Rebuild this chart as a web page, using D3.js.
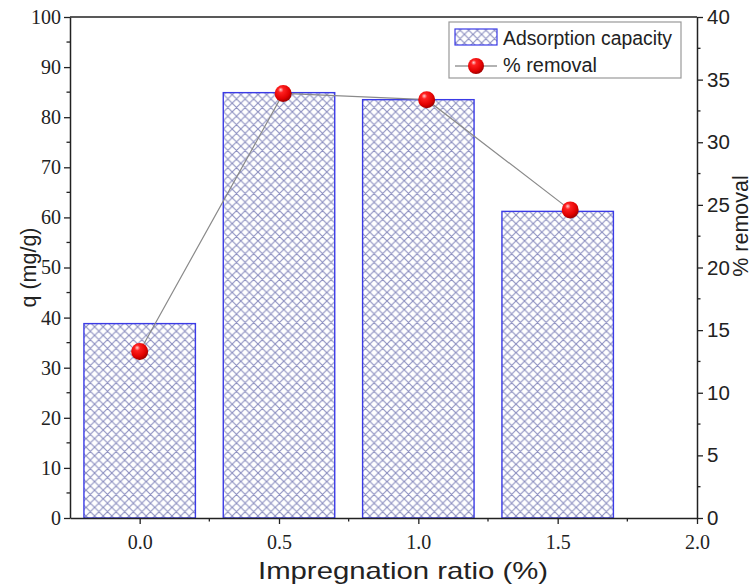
<!DOCTYPE html>
<html>
<head>
<meta charset="utf-8">
<script src="https://cdn.jsdelivr.net/npm/d3@7"></script>
<style>
  html, body { margin: 0; padding: 0; background: #fff; }
  svg { display: block; }
</style>
</head>
<body>
<svg id="chart" width="753" height="584"></svg>
<script>
// Impregnation ratio (%) for each bar
const ratios = [0.0, 0.5, 1.0, 1.5];
// Adsorption capacity q (mg/g)
const capacity = [38.8, 84.9, 83.5, 61.2];
// Removal points: their x positions and % removal
const removalX = [0.0, 0.515, 1.03, 1.545];
const removal = [13.3, 33.9, 33.4, 24.6];
// Tick values
const xTicks = [0.0, 0.5, 1.0, 1.5, 2.0];
const qTicks = [0, 10, 20, 30, 40, 50, 60, 70, 80, 90, 100];
const rTicks = [0, 5, 10, 15, 20, 25, 30, 35, 40];

const plotLeft = 70, plotRight = 697, plotTop = 17, plotBottom = 518;
const barWidth = 0.4;

const svg = d3.select("#chart");
const defs = svg.append("defs");

// crosshatch fill for the bars
const pat = defs.append("pattern")
  .attr("id", "hatch")
  .attr("patternUnits", "userSpaceOnUse")
  .attr("width", 8.6).attr("height", 8.6);
pat.append("rect").attr("width", 8.6).attr("height", 8.6).attr("fill", "#fff");
pat.append("path")
  .attr("d", "M0,0 L8.6,8.6 M8.6,0 L0,8.6 M-1,7.6 L1,9.6 M7.6,-1 L9.6,1 M-1,1 L1,-1 M7.6,9.6 L9.6,7.6")
  .attr("stroke", "#8c8fc0").attr("stroke-width", 1.1).attr("fill", "none");

// shiny red ball marker
const grad = defs.append("radialGradient")
  .attr("id", "ball").attr("cx", "40%").attr("cy", "35%").attr("r", "65%").attr("fx", "35%").attr("fy", "28%");
grad.append("stop").attr("offset", "0%").attr("stop-color", "#ffd0d0");
grad.append("stop").attr("offset", "25%").attr("stop-color", "#ff2020");
grad.append("stop").attr("offset", "75%").attr("stop-color", "#e00000");
grad.append("stop").attr("offset", "100%").attr("stop-color", "#a00000");

const x = d3.scaleLinear().domain([-0.25, 2.0]).range([plotLeft, plotRight]);
const yQ = d3.scaleLinear().domain([0, 100]).range([plotBottom, plotTop]);
const yR = d3.scaleLinear().domain([0, 40]).range([plotBottom, plotTop]);

// bars
svg.append("g").selectAll("rect")
  .data(ratios)
  .join("rect")
  .attr("x", (d) => x(d - barWidth / 2))
  .attr("width", (d) => x(d + barWidth / 2) - x(d - barWidth / 2))
  .attr("y", (d, i) => yQ(capacity[i]))
  .attr("height", (d, i) => yQ(0) - yQ(capacity[i]))
  .attr("fill", "url(#hatch)")
  .attr("stroke", "#3b3be6")
  .attr("stroke-width", 1.4);

// removal line and points
const pts = removalX.map((v, i) => [v, removal[i]]);
svg.append("path")
  .datum(pts)
  .attr("d", d3.line().x((d) => x(d[0])).y((d) => yR(d[1])))
  .attr("fill", "none").attr("stroke", "#8a8a8a").attr("stroke-width", 1.2);
svg.append("g").selectAll("circle")
  .data(pts)
  .join("circle")
  .attr("cx", (d) => x(d[0])).attr("cy", (d) => yR(d[1]))
  .attr("r", 8.5).attr("fill", "url(#ball)");

// frame top line
svg.append("line")
  .attr("x1", plotLeft).attr("x2", plotRight).attr("y1", plotTop).attr("y2", plotTop)
  .attr("stroke", "#222").attr("stroke-width", 1.5);

const serif = "'Liberation Serif', 'Times New Roman', serif";
const sans = "'Liberation Sans', Arial, sans-serif";

function styleAxis(g, font, size) {
  g.selectAll(".domain").attr("stroke", "#222").attr("stroke-width", 1.5);
  g.selectAll(".tick line").attr("stroke", "#222").attr("stroke-width", 1.3);
  g.selectAll(".tick text").attr("font-family", font).attr("font-size", size).attr("fill", "#222");
}

// minor ticks
function minor(values, orient, scale, pos, len) {
  const g = svg.append("g");
  values.forEach((v) => {
    const p = scale(v);
    if (orient === "left") g.append("line").attr("x1", pos - len).attr("x2", pos).attr("y1", p).attr("y2", p);
    if (orient === "right") g.append("line").attr("x1", pos).attr("x2", pos + len).attr("y1", p).attr("y2", p);
    if (orient === "bottom") g.append("line").attr("x1", p).attr("x2", p).attr("y1", pos).attr("y2", pos + len);
  });
  g.selectAll("line").attr("stroke", "#222").attr("stroke-width", 1.3);
}

// left axis
const gl = svg.append("g").attr("transform", `translate(${plotLeft},0)`)
  .call(d3.axisLeft(yQ).tickValues(qTicks).tickFormat(d3.format("d")).tickSize(6).tickPadding(3).tickSizeOuter(0));
styleAxis(gl, serif, 20);
minor(d3.range(5, 100, 10), "left", yQ, plotLeft, 3.5);

// right axis
const gr = svg.append("g").attr("transform", `translate(${plotRight},0)`)
  .call(d3.axisRight(yR).tickValues(rTicks).tickFormat(d3.format("d")).tickSize(6).tickPadding(4).tickSizeOuter(0));
styleAxis(gr, sans, 20.5);
minor(d3.range(2.5, 40, 5), "right", yR, plotRight, 3.5);

// bottom axis
const gb = svg.append("g").attr("transform", `translate(0,${plotBottom})`)
  .call(d3.axisBottom(x).tickValues(xTicks).tickFormat(d3.format(".1f")).tickSize(6).tickPadding(11).tickSizeOuter(0));
styleAxis(gb, serif, 20);
minor([0.25, 0.75, 1.25, 1.75], "bottom", x, plotBottom, 3.5);

// axis titles
svg.append("text")
  .attr("x", 258).attr("y", 579)
  .attr("textLength", 290).attr("lengthAdjust", "spacingAndGlyphs")
  .attr("font-family", sans).attr("font-size", 24).attr("fill", "#222")
  .text("Impregnation ratio (%)");
svg.append("text")
  .attr("transform", `translate(36,${(plotTop + plotBottom) / 2}) rotate(-90)`)
  .attr("text-anchor", "middle")
  .attr("font-family", sans).attr("font-size", 21.5).attr("fill", "#222")
  .text("q (mg/g)");
svg.append("text")
  .attr("transform", `translate(748,226) rotate(-90)`)
  .attr("text-anchor", "middle")
  .attr("font-family", sans).attr("font-size", 21.5).attr("fill", "#222")
  .text("% removal");

// legend
const lg = svg.append("g");
lg.append("rect")
  .attr("x", 449).attr("y", 22).attr("width", 232).attr("height", 56)
  .attr("fill", "#fff").attr("stroke", "#999").attr("stroke-width", 1.2);
lg.append("rect")
  .attr("x", 455).attr("y", 29).attr("width", 42).attr("height", 16)
  .attr("fill", "url(#hatch)").attr("stroke", "#3b3be6").attr("stroke-width", 1.2);
lg.append("text")
  .attr("x", 503).attr("y", 45)
  .attr("textLength", 169).attr("lengthAdjust", "spacingAndGlyphs")
  .attr("font-family", sans).attr("font-size", 19.5).attr("fill", "#222")
  .text("Adsorption capacity");
lg.append("line")
  .attr("x1", 455).attr("x2", 497).attr("y1", 66).attr("y2", 66)
  .attr("stroke", "#666").attr("stroke-width", 1.2);
lg.append("circle")
  .attr("cx", 476).attr("cy", 66).attr("r", 8).attr("fill", "url(#ball)");
lg.append("text")
  .attr("x", 503).attr("y", 72)
  .attr("textLength", 94).attr("lengthAdjust", "spacingAndGlyphs")
  .attr("font-family", sans).attr("font-size", 19.5).attr("fill", "#222")
  .text("% removal");
</script>
</body>
</html>
